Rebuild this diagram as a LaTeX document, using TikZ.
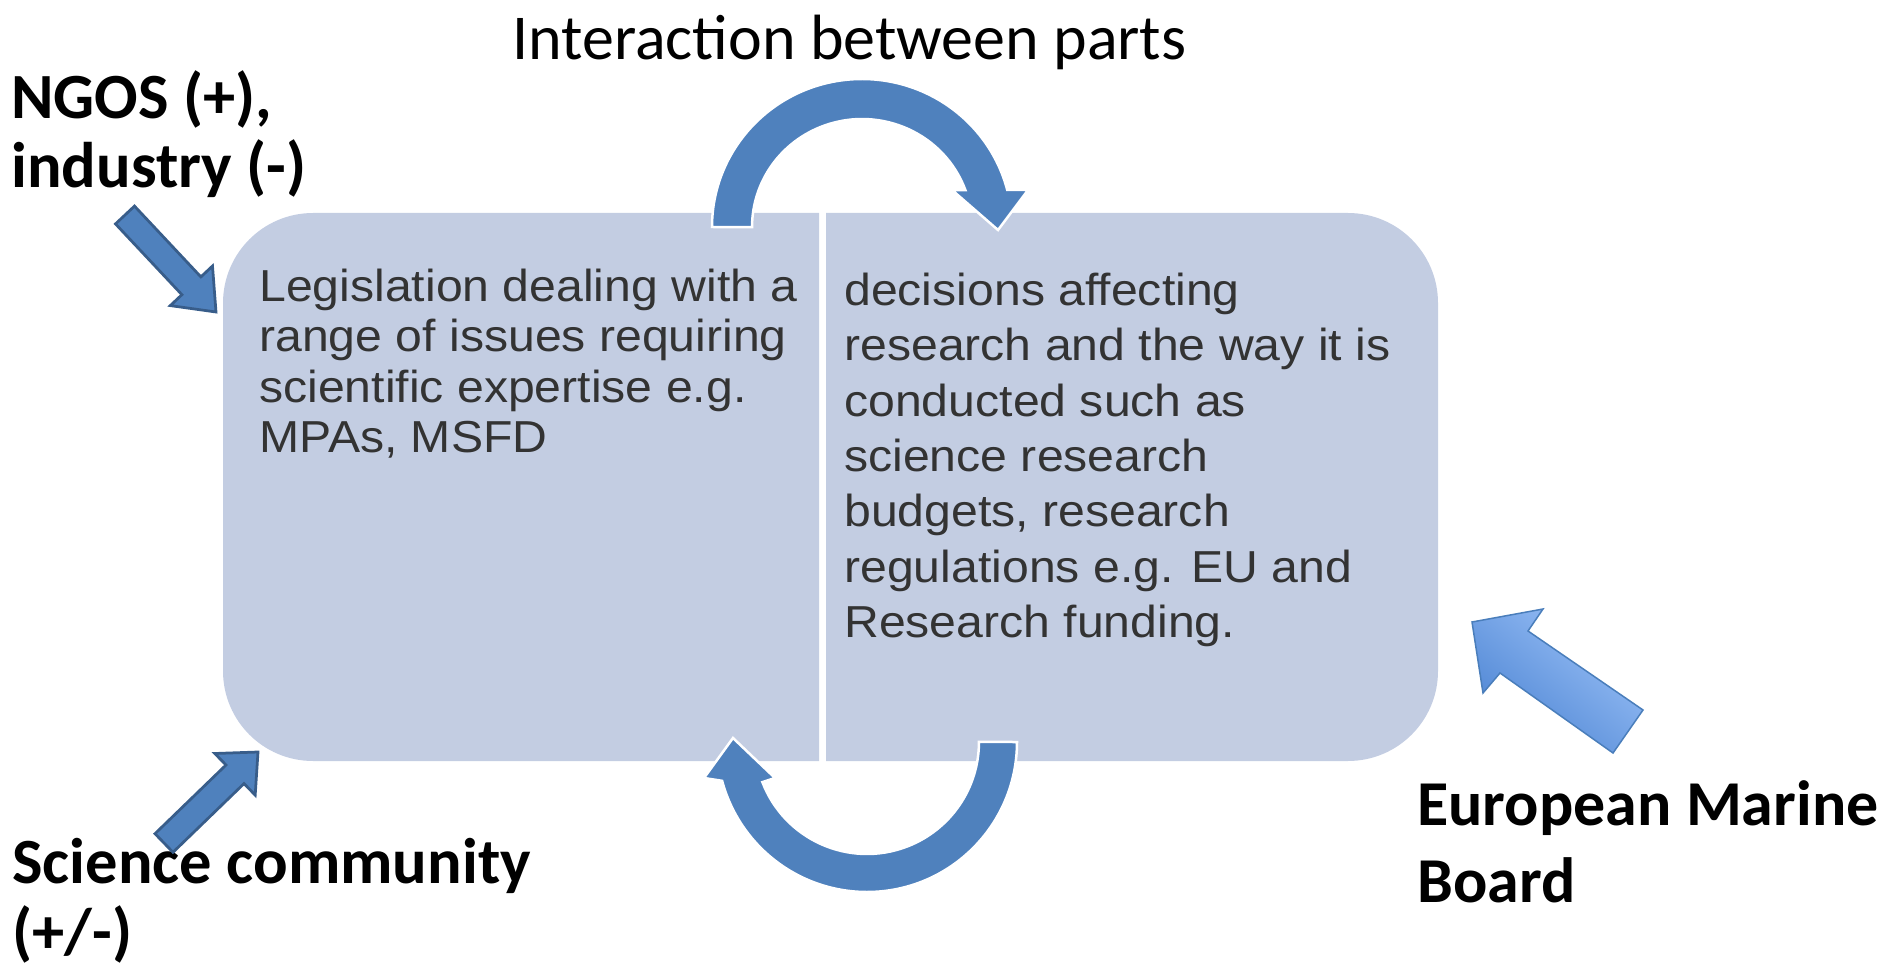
\documentclass[tikz,border=0pt]{standalone}
\usepackage{fontspec}
\setmainfont{Carlito}
\newfontfamily\boxfont[FakeStretch=1.075]{Liberation Sans}
\definecolor{panelfill}{HTML}{C3CDE2}
\definecolor{arcblue}{HTML}{4F81BD}
\definecolor{arrowedge}{HTML}{385D8A}
\definecolor{emblight}{HTML}{9BC1F7}
\definecolor{embdark}{HTML}{4C84D3}
\definecolor{embedge}{HTML}{4A7EBB}
\definecolor{boxtext}{HTML}{333333}

\begin{document}
\begin{tikzpicture}[x=0.02cm,y=-0.02cm,
  every node/.style={inner sep=0pt},
  sidelabel/.style={anchor=base west,align=left,font=\fontsize{36.7}{39.8}\selectfont\bfseries},
  boxtxt/.style={anchor=base west,align=left,text=boxtext},
  panel/.style={fill=panelfill},
  circarrow/.style={fill=arcblue,draw=white,line width=0.05cm},
  blockarrow/.style={fill=arcblue,draw=arrowedge,line width=0.055cm,line join=miter}]
\useasboundingbox (0,0) rectangle (1887,966);

% the two halves of the panel
\fill[panel] (819,213) -- (313,213) arc[start angle=270,end angle=180,radius=90] -- (223,671) arc[start angle=180,end angle=90,radius=90] -- (819,761) -- cycle;
\fill[panel] (826,213) -- (1348,213) arc[start angle=270,end angle=360,radius=90] -- (1438,671) arc[start angle=0,end angle=90,radius=90] -- (826,761) -- cycle;

% circular arrows
\draw[circarrow] (712,227) arc[start angle=180,end angle=345.5,x radius=150,y radius=148] -- (1028,190) -- (998,230) -- (952,190) -- (965.4,190.1) arc[start angle=340,end angle=180,x radius=110,y radius=108] -- cycle;
\draw[circarrow] (1017,742) arc[start angle=0,end angle=165,radius=150] -- (704,778) -- (733,738) -- (775,778) -- (762.4,782.1) arc[start angle=159,end angle=0,radius=112] -- cycle;

% base west of a multi-line node = baseline of its last line
\node[boxtxt,font=\boxfont\fontsize{25.5}{28.7}\selectfont] (legis) at (259,452.5) {Legislation dealing with a\\range of issues requiring\\scientific expertise e.g.\\MPAs, MSFD};
\node[boxtxt,font=\boxfont\fontsize{25.5}{31.5}\selectfont] (decis) at (844,637.4) {decisions affecting\\research and the way it is\\conducted such as\\science research\\budgets, research\\regulations e.g. EU and\\Research funding.};

\node[anchor=base west,font=\fontsize{36.4}{40}\selectfont] (title) at (512,60) {Interaction between parts};
\node[sidelabel] (ngos) at (11,188) {NGOS (+),\\industry (-)};
\node[sidelabel] (scicom) at (12,953) {Science community\\(+/-)};
\node[sidelabel,font=\fontsize{36.4}{43.8}\selectfont\bfseries] (emb) at (1417,902) {European Marine\\Board};

% block arrows
\draw[blockarrow] (134.5,206.1) -- (200.9,276.9) -- (212.5,266.0) -- (216,312) -- (170.3,305.6) -- (181.9,294.7) -- (115.5,223.9) -- cycle;
\draw[blockarrow] (173.0,852.3) -- (244.0,783.6) -- (255.2,795.1) -- (258,752) -- (214.8,753.5) -- (226.0,765.0) -- (155.0,833.7) -- cycle;
\shadedraw[top color=emblight,bottom color=embdark,shading angle=-40,draw=embedge,line width=0.03cm] (1643,710) -- (1528,631) -- (1543,609) -- (1472,622) -- (1483,693) -- (1500,673) -- (1613,753) -- cycle;
\end{tikzpicture}
\end{document}
